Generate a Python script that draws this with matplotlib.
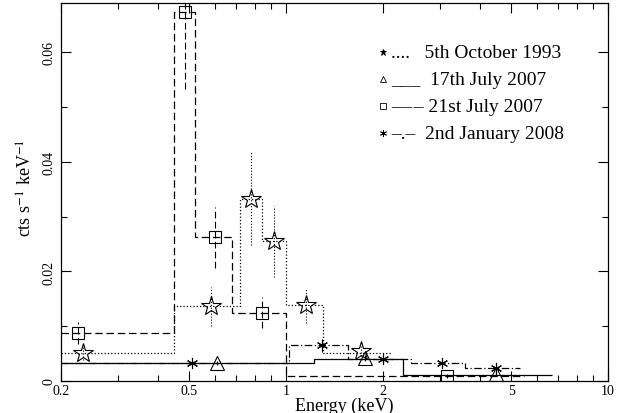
import numpy as np
import matplotlib
matplotlib.use("Agg")
import matplotlib.pyplot as plt
from matplotlib.ticker import FixedLocator, NullFormatter, MultipleLocator

plt.rcParams['font.family'] = ['Liberation Serif', 'DejaVu Serif']
plt.rcParams['mathtext.fontset'] = 'stix'

# 5th October 1993 (dotted, stars)
oct93_edges = [0.2, 0.45, 0.72, 0.84, 1.0, 1.30, 2.12]
oct93_rate = [0.0051, 0.0136, 0.0333, 0.0255, 0.0138, 0.0052]
oct93_e = [0.234, 0.585, 0.778, 0.916, 1.15, 1.71]
oct93_y = [0.0051, 0.0136, 0.0333, 0.0255, 0.0138, 0.0055]
oct93_err = [0.0012, 0.0036, 0.0085, 0.0065, 0.0032, 0.0010]

# 17th July 2007 (solid, triangles)
jul17_edges = [0.2, 1.22, 2.3, 6.7]
jul17_rate = [0.0033, 0.0040, 0.00116]
jul17_e = [0.61, 1.76, 4.5]
jul17_y = [0.0033, 0.0042, 0.0013]
jul17_err = [0.0003, 0.0006, 0.0003]

# 21st July 2007 (dashed, squares)
jul21_edges = [0.2, 0.449, 0.52, 0.68, 1.0, 5.5]
jul21_rate = [0.0088, 0.0673, 0.0262, 0.0125, 0.0010]
jul21_e = [0.226, 0.487, 0.602, 0.84, 3.16]
jul21_y = [0.0088, 0.0673, 0.0262, 0.0125, 0.0009]
jul21_err = [0.0020, 0.0140, 0.0055, 0.0028, 0.0004]

# 2nd January 2008 (dash-dot, asterisks)
jan08_edges = [0.2, 1.02, 1.56, 2.45, 3.6, 5.34]
jan08_rate = [0.0033, 0.0065, 0.0040, 0.0032, 0.0023]
jan08_e = [0.51, 1.29, 2.0, 3.04, 4.48]
jan08_y = [0.0033, 0.0065, 0.0040, 0.0032, 0.0023]
jan08_err = [0.0003, 0.0012, 0.0006, 0.0006, 0.0005]

legend_labels = ["....   5th October 1993", "___  17th July 2007",
                 "\u2013\u200a\u2013\u200a\u2013 21st July 2007",
                 "\u2013.\u2013  2nd January 2008"]

fig = plt.figure(figsize=(6.37, 4.14), dpi=100)
ax = fig.add_axes([0.0958, 0.0773, 0.8587, 0.913])

series = [
    (oct93_edges, oct93_rate, oct93_e, oct93_y, oct93_err, ':', '*', 15),
    (jul17_edges, jul17_rate, jul17_e, jul17_y, jul17_err, '-', '^', 10),
    (jul21_edges, jul21_rate, jul21_e, jul21_y, jul21_err, (0, (6, 3)), 's', 9),
    (jan08_edges, jan08_rate, jan08_e, jan08_y, jan08_err, (0, (6, 2, 1, 2)), (6, 2, 0), 8),
]

for edges, rate, xe, ye, err, ls, mk, ms in series:
    ax.stairs(rate, edges, baseline=None, color='black', linestyle=ls, linewidth=0.9)
    eb = ax.errorbar(xe, ye, yerr=err, fmt='none', ecolor='black', elinewidth=0.8, capsize=0)
    eb[2][0].set_linestyle(ls)
    if mk == (6, 2, 0):
        ax.plot(xe, ye, linestyle='none', marker=mk, markersize=ms, color='black',
                markeredgewidth=0.8)
    else:
        ax.plot(xe, ye, linestyle='none', marker=mk, markersize=ms, markerfacecolor='none',
                markeredgecolor='black', markeredgewidth=0.8)

ax.set_xscale('log')
ax.set_xlim(0.2, 10)
ax.set_ylim(0, 0.069)

ax.xaxis.set_major_locator(FixedLocator([0.2, 0.5, 1, 2, 5, 10]))
ax.set_xticklabels(['0.2', '0.5', '1', '2', '5', '10'])
ax.xaxis.set_minor_locator(FixedLocator([0.3, 0.4, 0.6, 0.7, 0.8, 0.9, 3, 4, 6, 7, 8, 9]))
ax.xaxis.set_minor_formatter(NullFormatter())
ax.yaxis.set_minor_locator(MultipleLocator(0.01))
ax.set_yticks([0, 0.02, 0.04, 0.06])
ax.set_yticklabels(['0', '0.02', '0.04', '0.06'], rotation=90, va='center')

ax.tick_params(which='both', direction='in', top=True, right=True, labelsize=10, width=0.8)
ax.tick_params(which='major', length=7)
ax.tick_params(which='minor', length=4)
ax.tick_params(axis='x', pad=2)
ax.tick_params(axis='y', pad=4)
for s in ax.spines.values():
    s.set_linewidth(0.9)

ax.set_xlabel('Energy (keV)', fontsize=13)
ax.xaxis.set_label_coords(0.518, -0.041)
ax.set_ylabel('cts s$^{-1}$ keV$^{-1}$', fontsize=13)
ax.yaxis.set_label_coords(-0.046, 0.513)

legend_markers = [('*', True), ('^', False), ('s', False), ((6, 2, 0), True)]
for i, (lab, (mk, filled)) in enumerate(zip(legend_labels, legend_markers)):
    yy = 0.870 - i * 0.0715
    if filled:
        ax.plot([0.588], [yy], transform=ax.transAxes, marker=mk, markersize=5,
                color='black', markeredgewidth=0.6, clip_on=False)
    else:
        ax.plot([0.588], [yy], transform=ax.transAxes, marker=mk, markersize=4,
                markerfacecolor='none', markeredgecolor='black', markeredgewidth=0.6,
                clip_on=False)
    ax.text(0.603, yy, lab, transform=ax.transAxes, fontsize=14, va='center', ha='left')

fig.savefig('out.png', dpi=100)
